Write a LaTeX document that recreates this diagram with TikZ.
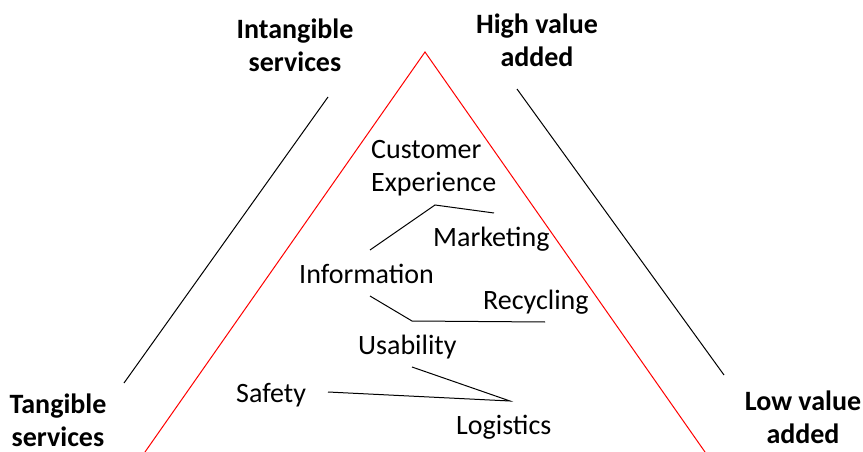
\documentclass[tikz,border=0pt]{standalone}
\usepackage{fontspec}
\setmainfont{Carlito}
\begin{document}
\begin{tikzpicture}[x=1pt,y=-1pt,
  lbl/.style={inner sep=0pt,font=\fontsize{28}{32.5}\selectfont},
  hdr/.style={inner sep=0pt,align=center,font=\fontsize{28}{33}\selectfont\bfseries},
  conn/.style={draw=black,line width=1pt},
  tri/.style={draw=red,line width=1pt}]
\useasboundingbox (0,0) rectangle (863,452);
% red triangle
\coordinate (apex) at (425,52);
\coordinate (bl) at (145,452);
\coordinate (br) at (705,452);
\draw[tri] (bl) -- (apex) -- (br);
% side lines
\coordinate (l1) at (328,97);
\coordinate (l2) at (124,383);
\coordinate (r1) at (517,89);
\coordinate (r2) at (724,375);
\draw[conn] (l1) -- (l2);
\draw[conn] (r1) -- (r2);
% headers
\node[hdr] (intang) at (295,45) {Intangible\\services};
\node[hdr] (high) at (537,40) {High value\\added};
\node[hdr] (tang) at (58,420) {Tangible\\services};
\node[hdr] (low) at (803,417) {Low value\\added};
% inner labels
\node[lbl,align=left,anchor=west] (cust) at (371,168) {Customer\\Experience};
\node[lbl,anchor=west] (mark) at (433,239) {Marketing};
\node[lbl,anchor=west] (info) at (299,274) {Information};
\node[lbl,anchor=west] (recy) at (483,302) {Recycling};
\node[lbl,anchor=west] (usab) at (358,347) {Usability};
\node[lbl,anchor=west] (safe) at (236,395) {Safety};
\node[lbl,anchor=west] (logi) at (456,427) {Logistics};
% connectors
\coordinate (a1) at (370,250);
\coordinate (a2) at (435,205);
\coordinate (a3) at (494,213);
\draw[conn] (a1) -- (a2) -- (a3);
\coordinate (b1) at (370,296);
\coordinate (b2) at (412,321);
\coordinate (b3) at (545,322);
\draw[conn] (b1) -- (b2) -- (b3);
\coordinate (c1) at (412,367);
\coordinate (c2) at (510,401);
\coordinate (c3) at (328,392);
\draw[conn] (c1) -- (c2) -- (c3);
\end{tikzpicture}
\end{document}
